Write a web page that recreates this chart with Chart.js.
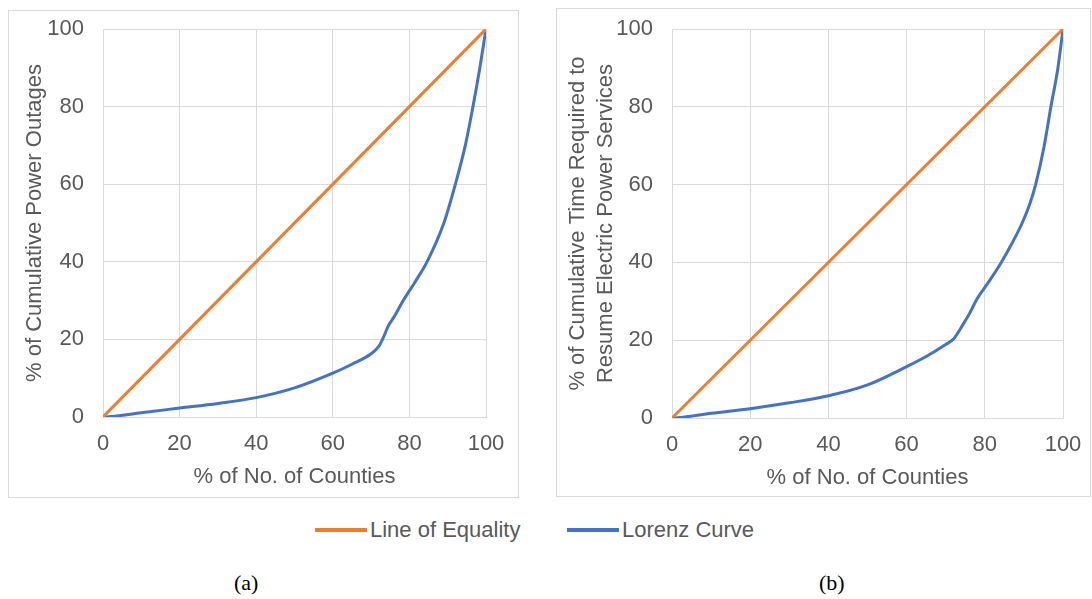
<!DOCTYPE html>
<html>
<head>
<meta charset="utf-8">
<script src="https://cdn.jsdelivr.net/npm/chart.js@4/dist/chart.umd.min.js"></script>
<style>
html,body{margin:0;padding:0;background:#fff;}
body{width:1092px;height:599px;position:relative;overflow:hidden;font-family:"Liberation Sans",Arial,sans-serif;}
.box{position:absolute;border:1px solid #d9d9d9;background:#fff;}
.box canvas{display:block;}
.leg{position:absolute;top:515px;height:30px;display:flex;align-items:center;font-size:22px;color:#595959;white-space:nowrap;}
.leg .mk{display:inline-block;width:52px;height:4px;margin-right:3px;}
.cap{position:absolute;top:570px;font-family:"Liberation Serif","Times New Roman",serif;font-size:22px;color:#000;}
</style>
</head>
<body>
<div class="box" id="boxA" style="left:8px;top:10px;width:509px;height:486px;"><canvas id="chartA" width="509" height="486"></canvas></div>
<div class="box" id="boxB" style="left:556px;top:8px;width:533px;height:487px;"><canvas id="chartB" width="533" height="487"></canvas></div>
<div class="leg" style="left:315px;"><span class="mk" style="background:#ED7D31"></span><span>Line of Equality</span></div>
<div class="leg" style="left:567px;"><span class="mk" style="background:#4472C4"></span><span>Lorenz Curve</span></div>
<div class="cap" style="left:234px;">(a)</div>
<div class="cap" style="left:819px;">(b)</div>
<script>
// ---- data ----
const tickValues = [0, 20, 40, 60, 80, 100];
const equalityX = [0, 100];
const equalityY = [0, 100];

const lorenzAX = [0, 2, 10, 20, 30, 40, 50, 60, 65, 70, 72, 73.2, 74.5, 76, 78.4, 81.6, 84.6, 89, 92, 94.6, 96.6, 98.4, 100];
const lorenzAY = [0, 0.1, 1.1, 2.3, 3.5, 5.0, 7.5, 11.3, 13.6, 16.3, 18.2, 20.5, 23.5, 25.8, 30, 35, 40, 50, 60, 70, 80, 90, 100];

const lorenzBX = [0, 2, 10, 20, 30, 40, 50, 60, 65, 70, 72, 74.4, 76, 78, 81, 84.2, 87, 89.5, 91.5, 93, 95.2, 96.9, 98.7, 100];
const lorenzBY = [0, 0.1, 1.2, 2.4, 3.9, 5.7, 8.5, 13.2, 15.8, 18.9, 20.3, 24, 26.7, 30.6, 35, 40, 45, 50, 55, 60, 70, 80, 90, 100];

const xTitle = "% of No. of Counties";
const yTitleA = "% of Cumulative Power Outages";
const yTitleB = ["% of Cumulative Time Required to", "Resume Electric Power Services"];
const seriesNames = ["Line of Equality", "Lorenz Curve"];

// ---- helpers ----
const pts = (xs, ys) => xs.map((x, i) => ({x: x, y: ys[i]}));
const TXT = '#595959', GRID = '#d9d9d9';
const FONT = {family: '"Liberation Sans", Arial, sans-serif', size: 22, lineHeight: 1.27};

function makeChart(id, lx, ly, yTitle, geo) {
  return new Chart(document.getElementById(id), {
    type: 'line',
    data: {
      datasets: [
        {label: seriesNames[0], data: pts(equalityX, equalityY), borderColor: '#ED7D31', borderWidth: 3, pointRadius: 0, tension: 0},
        {label: seriesNames[1], data: pts(lx, ly), borderColor: '#4472C4', borderWidth: 3, pointRadius: 0, cubicInterpolationMode: 'monotone'}
      ]
    },
    options: {
      responsive: false,
      animation: false,
      events: [],
      layout: {padding: {left: 0, top: geo.top, right: geo.right, bottom: 0}},
      plugins: {legend: {display: false}, tooltip: {enabled: false}},
      scales: {
        x: {
          type: 'linear', min: 0, max: 100,
          afterBuildTicks: s => { s.ticks = tickValues.map(v => ({value: v})); },
          afterFit: s => { s.height = geo.bottom; s.paddingLeft = 0; s.paddingRight = 0; },
          ticks: {color: TXT, font: FONT, padding: 13, maxRotation: 0},
          grid: {color: GRID, lineWidth: 1, drawTicks: false},
          border: {color: GRID, width: 1},
          title: {display: true, text: xTitle, color: TXT, font: FONT, padding: {top: 0, bottom: geo.xtp}}
        },
        y: {
          type: 'linear', min: 0, max: 100,
          afterBuildTicks: s => { s.ticks = tickValues.map(v => ({value: v})); },
          afterFit: s => { s.width = geo.left; s.paddingTop = 0; s.paddingBottom = 0; },
          ticks: {color: TXT, font: FONT, padding: 19},
          grid: {color: GRID, lineWidth: 1, drawTicks: false},
          border: {color: GRID, width: 1},
          title: {display: true, text: yTitle, color: TXT, font: FONT, padding: {top: geo.ytp, bottom: 0}}
        }
      }
    }
  });
}

makeChart('chartA', lorenzAX, lorenzAY, yTitleA, {left: 94, top: 18, right: 32, bottom: 80, xtp: 6, ytp: 12});
makeChart('chartB', lorenzBX, lorenzBY, yTitleB, {left: 115, top: 20, right: 27, bottom: 78, xtp: 4, ytp: 7});
</script>
</body>
</html>
